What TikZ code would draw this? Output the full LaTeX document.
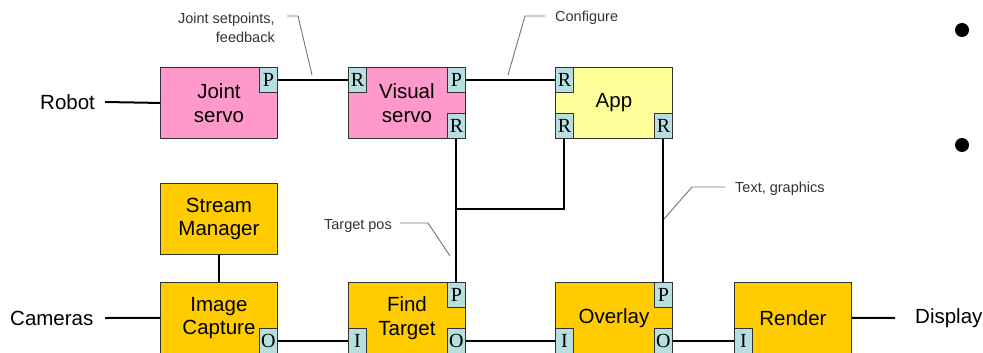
\documentclass[tikz,border=0pt]{standalone}
\usepackage{fontspec}
\usetikzlibrary{calc}
\setmainfont{Liberation Sans}
\newfontfamily\portfont{Liberation Serif}
\definecolor{servopink}{HTML}{FF99CC}
\definecolor{appyellow}{HTML}{FFFF99}
\definecolor{visionorange}{HTML}{FFCC00}
\definecolor{portblue}{HTML}{B7DEE0}
\begin{document}
\begin{tikzpicture}[x=1pt,y=-1pt,
  comp/.style={draw=black!80, line width=0.9pt, minimum width=117pt, minimum height=71pt,
    inner sep=0pt, align=center, anchor=north west, font=\fontsize{20.5}{23.5}\selectfont},
  port/.style={draw=black!80, line width=0.9pt, fill=portblue, minimum width=18pt, minimum height=25pt,
    inner sep=0pt, font=\portfont\fontsize{20}{20}\selectfont},
  wire/.style={line width=2pt},
  lead/.style={draw=black!55, line width=0.9pt},
  note/.style={font=\fontsize{14.5}{19}\selectfont, text=black!80, inner sep=0pt},
  ext/.style={font=\fontsize{20.5}{23}\selectfont, inner sep=0pt}]
\useasboundingbox (0,0) rectangle (983,353);

% components
\node[comp, fill=servopink] (js) at (160,67) {Joint\\servo};
\node[comp, fill=servopink] (vs) at (348,67) {Visual\\servo};
\node[comp, fill=appyellow] (app) at (555,67) {App};
\node[comp, fill=visionorange] (sm) at (160,183) {Stream\\Manager};
\node[comp, fill=visionorange] (ic) at (160,282) {Image\\Capture};
\node[comp, fill=visionorange] (ft) at (348,282) {Find\\Target};
\node[comp, fill=visionorange] (ov) at (555,282) {Overlay};
\node[comp, fill=visionorange] (rd) at (734,282) {Render};

% ports
\node[port, anchor=north east] (jsP) at (js.north east) {P};
\node[port, anchor=north west] (vsR) at (vs.north west) {R};
\node[port, anchor=north east] (vsP) at (vs.north east) {P};
\node[port, anchor=south east] (vsRb) at (vs.south east) {R};
\node[port, anchor=north west] (appR) at (app.north west) {R};
\node[port, anchor=south west] (appRb) at (app.south west) {R};
\node[port, anchor=south east] (appRc) at (app.south east) {R};
\node[port, anchor=south east] (icO) at (ic.south east) {O};
\node[port, anchor=north east] (ftP) at (ft.north east) {P};
\node[port, anchor=south west] (ftI) at (ft.south west) {I};
\node[port, anchor=south east] (ftO) at (ft.south east) {O};
\node[port, anchor=north east] (ovP) at (ov.north east) {P};
\node[port, anchor=south west] (ovI) at (ov.south west) {I};
\node[port, anchor=south east] (ovO) at (ov.south east) {O};
\node[port, anchor=south west] (rdI) at (rd.south west) {I};

% external endpoints
\node[ext, anchor=west] (robot) at (40,102) {Robot};
\node[ext, anchor=west] (cams) at (10,318) {Cameras};
\node[ext, anchor=west] (disp) at (915,318) {Display};
\coordinate (robotEnd) at (105,102);
\coordinate (camsEnd) at (105,318);
\coordinate (dispEnd) at (895,318);

% connectors
\draw[wire] (robotEnd) -- (js.west);
\draw[wire] (jsP.east) -- (vsR.west);
\draw[wire] (vsP.east) -- (appR.west);
\draw[wire] (vsRb.south) -- (ftP.north);
\coordinate (junc) at ($(vsRb.south)!0.493!(ftP.north)$);
\draw[wire] (junc) -| (appRb.south);
\draw[wire] (appRc.south) -- (ovP.north);
\draw[wire] (sm.south) -- (ic.north);
\draw[wire] (camsEnd) -- (ic.west);
\draw[wire] (icO.east) -- (ftI.west);
\draw[wire] (ftO.east) -- (ovI.west);
\draw[wire] (ovO.east) -- (rdI.west);
\draw[wire] (rd.east) -- (dispEnd);

% annotations
\node[note, align=right, anchor=east] (nJs) at (275,27.5) {Joint setpoints,\\feedback};
\draw[lead] (287,16) -- (298,16) -- (312,75);
\node[note, anchor=west] (nCfg) at (555,18) {Configure};
\draw[lead] (545,16) -- (525,16) -- (508,75);
\node[note, anchor=west] (nTxt) at (735,189) {Text, graphics};
\draw[lead] (725,187) -- (692,187) -- (664,219);
\node[note, anchor=east] (nTp) at (392,226) {Target pos};
\draw[lead] (400,223) -- (428,223) -- (450,256);

% bullets
\fill (962,30) circle[radius=7pt];
\fill (962,145) circle[radius=7pt];
\end{tikzpicture}
\end{document}
